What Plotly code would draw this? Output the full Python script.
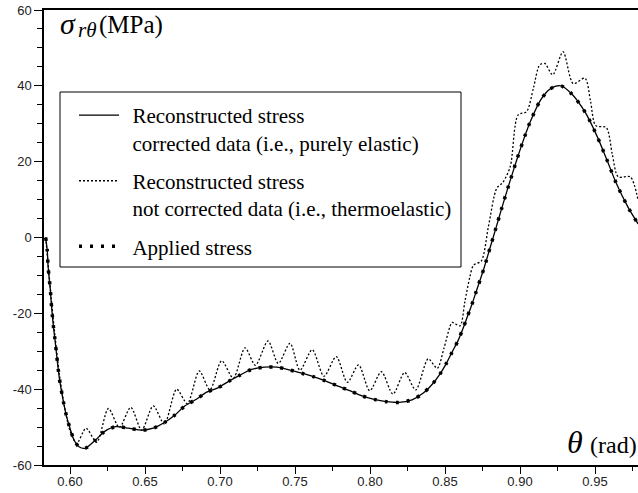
import plotly.graph_objects as go

# ---- data ----
theta_corr = [0.5838, 0.5849, 0.5853, 0.5860, 0.5869, 0.5875, 0.5882, 0.5891, 0.5900, 0.5911,
              0.5929, 0.5956, 0.5978, 0.6000, 0.6027, 0.6060, 0.6100, 0.6171, 0.6229, 0.6305,
              0.6389, 0.6478, 0.6555, 0.6629, 0.6700, 0.6767, 0.6845, 0.6911, 0.6978, 0.7055,
              0.7133, 0.7211, 0.7295, 0.7378, 0.7462, 0.7545, 0.7622, 0.7702, 0.7787, 0.7865,
              0.7942, 0.8027, 0.8109, 0.8193, 0.8280, 0.8353, 0.8415, 0.8465, 0.8509, 0.8549,
              0.8587, 0.8620, 0.8649, 0.8680, 0.8705, 0.8760, 0.8802, 0.8842, 0.8875, 0.8925,
              0.8982, 0.9031, 0.9069, 0.9138, 0.9202, 0.9272, 0.9347, 0.9438, 0.9515, 0.9575,
              0.9642, 0.9720, 0.9787]
sigma_corr = [0.0, -3.7, -7.1, -10.3, -13.8, -17.2, -20.4, -24.0, -27.0, -31.0,
              -37.1, -43.3, -47.3, -50.3, -53.4, -55.2, -55.6, -53.4, -51.2, -49.9,
              -50.3, -50.8, -50.3, -48.8, -46.8, -44.4, -42.6, -40.8, -39.8, -38.0,
              -36.3, -34.8, -34.2, -34.2, -34.9, -35.8, -36.7, -37.8, -39.2, -40.4,
              -41.7, -42.7, -43.3, -43.5, -42.8, -41.1, -38.7, -36.1, -33.2, -30.1,
              -27.2, -24.0, -20.9, -17.6, -14.6, -8.1, -2.5, 2.8, 7.3, 13.8,
              20.9, 26.6, 30.6, 36.3, 39.2, 40.0, 37.8, 32.8, 26.6, 20.9,
              14.3, 8.0, 3.6]

theta_raw = [0.5838, 0.5853, 0.5875, 0.5900, 0.5929, 0.5965, 0.6000, 0.6045, 0.6107, 0.6178,
             0.6256, 0.6329, 0.6405, 0.6478, 0.6555, 0.6629, 0.6711, 0.6782, 0.6862, 0.6933,
             0.7011, 0.7089, 0.7167, 0.7236, 0.7320, 0.7389, 0.7467, 0.7533, 0.7615, 0.7693,
             0.7775, 0.7849, 0.7924, 0.7998, 0.8076, 0.8153, 0.8231, 0.8305, 0.8388, 0.8448,
             0.8493, 0.8533, 0.8548, 0.8600, 0.8632, 0.8665, 0.8690, 0.8742, 0.8790, 0.8845,
             0.8885, 0.8935, 0.8987, 0.9044, 0.9090, 0.9131, 0.9165, 0.9218, 0.9287, 0.9355,
             0.9433, 0.9470, 0.9505, 0.9575, 0.9615, 0.9655, 0.9735, 0.9787]
sigma_raw = [0.0, -6.5, -16.0, -26.0, -36.0, -45.0, -51.0, -54.3, -50.3, -54.0,
             -45.1, -50.1, -44.8, -50.8, -44.4, -49.2, -40.0, -43.8, -35.2, -40.2,
             -32.5, -37.1, -29.1, -33.7, -27.3, -33.2, -27.9, -35.0, -29.6, -36.6,
             -31.4, -38.2, -33.6, -40.4, -35.4, -41.3, -35.6, -40.2, -32.0, -34.5,
             -29.2, -23.5, -22.4, -23.3, -17.0, -10.5, -7.3, -6.2, 3.0, 13.0,
             14.5, 18.7, 32.3, 33.2, 39.5, 45.5, 45.9, 42.9, 49.0, 40.6,
             42.0, 36.0, 29.5, 29.0, 22.0, 16.0, 16.0, 9.9]

theta_applied = list(theta_corr)
sigma_applied = list(sigma_corr)

x_ticks = [0.60, 0.65, 0.70, 0.75, 0.80, 0.85, 0.90, 0.95]
x_ticktext = ["0.60", "0.65", "0.70", "0.75", "0.80", "0.85", "0.90", "0.95"]
y_ticks = [-60, -40, -20, 0, 20, 40, 60]
y_ticktext = ["-60", "-40", "-20", "0", "20", "40", "60"]

PAD = "\u2009\u2009"
names = [PAD + "Reconstructed stress<br>" + PAD + "corrected data (i.e., purely elastic)",
         PAD + "Reconstructed stress<br>" + PAD + "not corrected data (i.e., thermoelastic)",
         PAD + "Applied stress"]

SERIF = "Liberation Serif, Times New Roman, serif"
SANS = "Liberation Sans, Arial, sans-serif"

# pixel helpers for placing decorations (plot area 44..638 x 10..465)
def px(x):
    return (x - 44) / 594.0

def py(y):
    return (465 - y) / 455.0

fig = go.Figure()
fig.add_trace(go.Scatter(x=theta_corr, y=sigma_corr, mode="lines", name=names[0], legendgroup="a",
                         line=dict(color="black", width=1.3, shape="spline", smoothing=0.8)))
fig.add_trace(go.Scatter(x=theta_raw, y=sigma_raw, mode="lines", name=names[1], legendgroup="b",
                         line=dict(color="black", width=1.3, dash="2px,2px", shape="spline", smoothing=0.8)))
fig.add_trace(go.Scatter(x=theta_applied, y=sigma_applied, mode="lines", name=names[2], legendgroup="c",
                         line=dict(color="black", width=3.5, dash="3px,8px", shape="spline", smoothing=0.8)))

fig.update_layout(
    width=638, height=493,
    margin=dict(l=44, r=0, t=10, b=28),
    paper_bgcolor="white", plot_bgcolor="white",
    showlegend=True,
    legend=dict(x=px(74), y=py(95), xanchor="left", yanchor="top",
                borderwidth=0, bgcolor="rgba(0,0,0,0)",
                font=dict(family=SERIF, size=21, color="black"),
                valign="top", itemwidth=40, tracegroupgap=8),
    xaxis=dict(range=[0.58267, 0.97867], tickvals=x_ticks, ticktext=x_ticktext,
               showline=True, linecolor="black", linewidth=1.5, mirror=True,
               ticks="outside", ticklen=7, tickcolor="black", tickwidth=1,
               ticklabelstandoff=-3,
               minor=dict(dtick=0.025, tick0=0, ticks="outside", ticklen=4, tickcolor="black", showgrid=False),
               showgrid=False, zeroline=False,
               tickfont=dict(family=SANS, size=13, color="#222")),
    yaxis=dict(range=[-60, 60], tickvals=y_ticks, ticktext=y_ticktext,
               showline=True, linecolor="black", linewidth=1.5,
               ticks="outside", ticklen=8, tickcolor="black", tickwidth=1,
               minor=dict(dtick=5, tick0=0, ticks="outside", ticklen=5, tickcolor="black", showgrid=False),
               showgrid=False, zeroline=False,
               tickfont=dict(family=SANS, size=13, color="#222")),
    shapes=[dict(type="rect", xref="paper", yref="paper",
                 x0=px(60), x1=px(461), y0=py(267), y1=py(92),
                 line=dict(color="black", width=1), fillcolor="white", layer="above")],
    annotations=[
        dict(text="<i>σ</i>", xref="paper", yref="paper", x=px(58), y=py(42),
             xanchor="left", yanchor="bottom", showarrow=False,
             font=dict(family=SERIF, size=30, color="black")),
        dict(text="<i>rθ</i>", xref="paper", yref="paper", x=px(76), y=py(44),
             xanchor="left", yanchor="bottom", showarrow=False,
             font=dict(family=SERIF, size=21, color="black")),
        dict(text="(MPa)", xref="paper", yref="paper", x=px(97), y=py(41),
             xanchor="left", yanchor="bottom", showarrow=False,
             font=dict(family=SERIF, size=25, color="black")),
        dict(text="<i>θ</i>", xref="paper", yref="paper", x=px(565), y=py(462),
             xanchor="left", yanchor="bottom", showarrow=False,
             font=dict(family=SERIF, size=32, color="black")),
        dict(text="(rad)", xref="paper", yref="paper", x=px(588), y=py(460),
             xanchor="left", yanchor="bottom", showarrow=False,
             font=dict(family=SERIF, size=24, color="black")),
    ],
)

fig.write_html("out.html", config={"displayModeBar": False},
               post_script="document.body.style.margin='0px';document.body.style.overflow='hidden';")
